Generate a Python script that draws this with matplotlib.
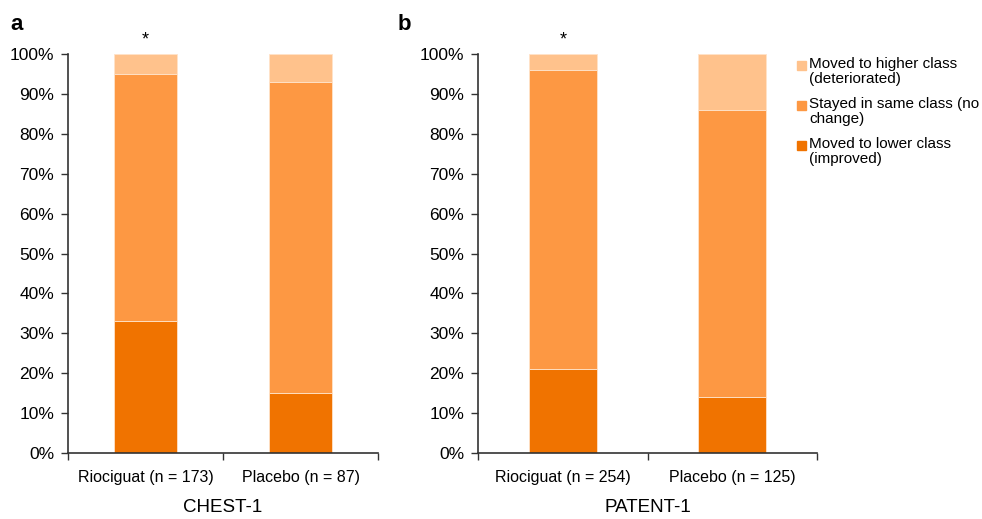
import numpy as np
import matplotlib.pyplot as plt

plt.rcParams['font.family'] = ['Liberation Sans', 'DejaVu Sans']

# data (percent of patients)
studies = ['CHEST-1', 'PATENT-1']
groups_chest = ['Riociguat (n = 173)', 'Placebo (n = 87)']
groups_patent = ['Riociguat (n = 254)', 'Placebo (n = 125)']
improved_chest = [33, 15]
same_chest = [62, 78]
worse_chest = [5, 7]
improved_patent = [21, 14]
same_patent = [75, 72]
worse_patent = [4, 14]
star_chest = [True, False]
star_patent = [True, False]

legend_labels = ['Moved to higher class\n(deteriorated)',
                 'Stayed in same class (no\nchange)',
                 'Moved to lower class\n(improved)']
c_dark = '#F07300'
c_mid = '#FD9843'
c_light = '#FFC28C'

fig = plt.figure(figsize=(9.82, 5.19), dpi=100)
ax1 = fig.add_axes([68/982, 1-453/519, 310/982, 399/519])
ax2 = fig.add_axes([478/982, 1-453/519, 339/982, 399/519])


def panel(ax, groups, imp, same, worse, stars, title, bw):
    x = np.arange(len(groups))
    imp = np.array(imp); same = np.array(same); worse = np.array(worse)
    ax.bar(x, imp, bw, color=c_dark, edgecolor='#FFE3C9', linewidth=0.6)
    ax.bar(x, same, bw, bottom=imp, color=c_mid, edgecolor='#FFE3C9', linewidth=0.6)
    ax.bar(x, worse, bw, bottom=imp + same, color=c_light, edgecolor='#FFE3C9', linewidth=0.6)
    for i, s in enumerate(stars):
        if s:
            ax.text(x[i], 103.5, '*', ha='center', va='center', fontsize=13, clip_on=False)
    ax.set_xlim(-0.5, len(groups) - 0.5)
    ax.set_ylim(0, 100)
    ax.set_yticks(np.arange(0, 101, 10))
    ax.set_yticklabels([f'{v}%' for v in range(0, 101, 10)], fontsize=12.5)
    ax.set_xticks(x)
    ax.set_xticklabels(groups, fontsize=11.5)
    ax.set_xticks(np.arange(-0.5, len(groups)), minor=True)
    ax.tick_params(axis='x', which='major', length=0, pad=12)
    ax.tick_params(axis='x', which='minor', length=5, width=1, color='#333333')
    ax.tick_params(axis='y', length=5, width=1, color='#333333', pad=5)
    for s in ['top', 'right']:
        ax.spines[s].set_visible(False)
    for s in ['left', 'bottom']:
        ax.spines[s].set_color('#333333')
        ax.spines[s].set_linewidth(1.2)
    ax.set_xlabel(title, fontsize=13.5, labelpad=10)


panel(ax1, groups_chest, improved_chest, same_chest, worse_chest, star_chest, studies[0], 0.41)
panel(ax2, groups_patent, improved_patent, same_patent, worse_patent, star_patent, studies[1], 0.40)

fig.text(10/982, 1-24/519, 'a', fontsize=16, fontweight='bold', va='center')
fig.text(398/982, 1-24/519, 'b', fontsize=16, fontweight='bold', va='center')

# legend drawn by hand to match the wrapped, clipped layout
leg_y = [65, 105, 145]
leg_c = [c_light, c_mid, c_dark]
for yy, cc, lab in zip(leg_y, leg_c, legend_labels):
    fig.patches.append(plt.Rectangle((797/982, 1-(yy+5)/519), 9/982, 9/519,
                                     transform=fig.transFigure, color=cc))
    fig.text(809/982, 1-(yy-8)/519, lab, fontsize=11, va='top', linespacing=1.05)

fig.savefig('out.png', dpi=100)
